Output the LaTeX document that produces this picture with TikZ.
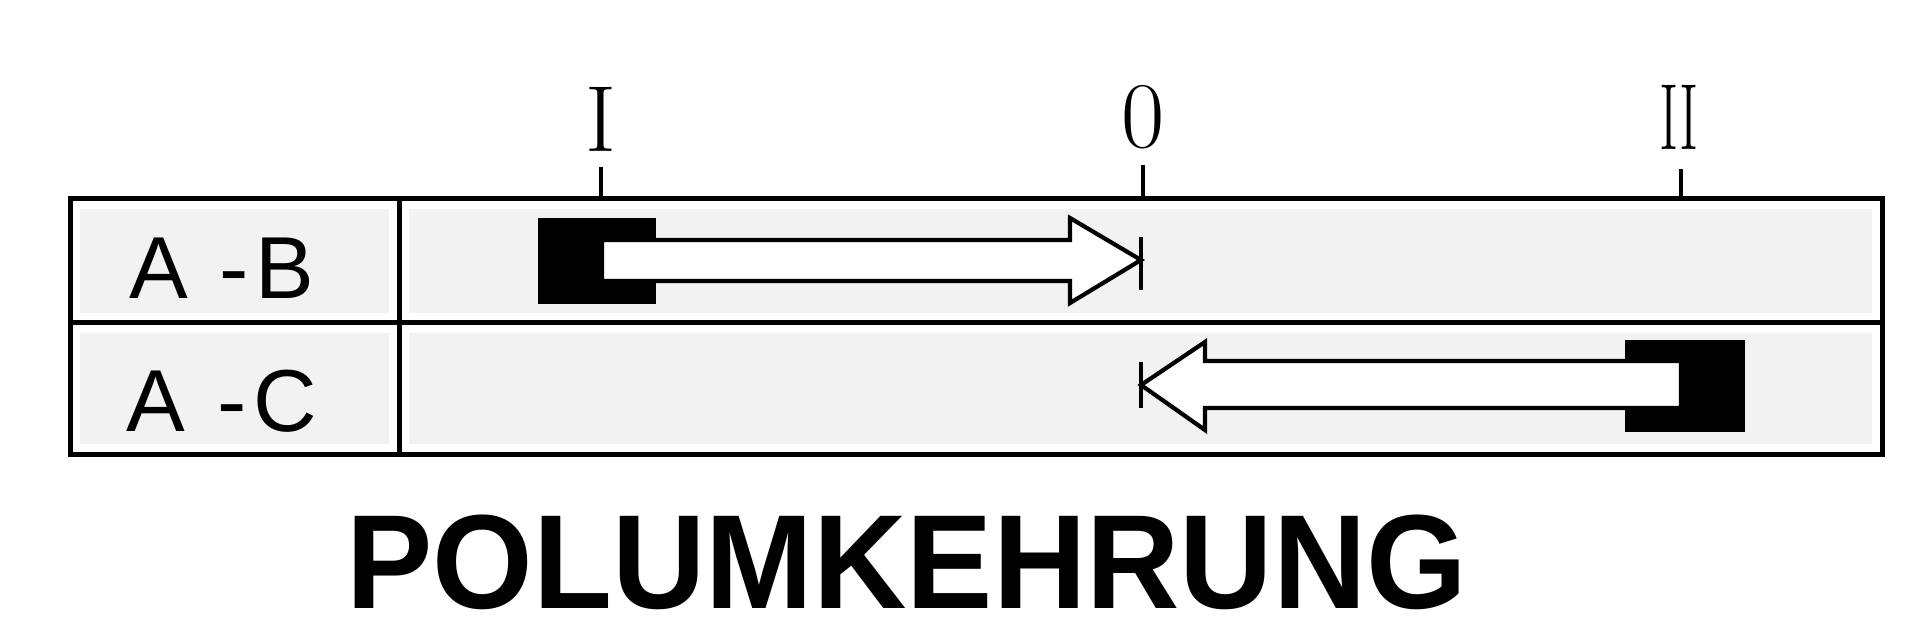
\documentclass[tikz,border=0pt]{standalone}
\usepackage{fontspec}
\newfontfamily\rowfont[LetterSpace = 8]{Liberation Sans}
\newfontfamily\titlefont{Liberation Sans}

\begin{document}
\begin{tikzpicture}[x = 0.5pt, y = -0.5pt,
	poleframe/.style = {line width = 2.5pt},
	cellshade/.style = {fill = black!5},
	arrowbody/.style = {fill = white, draw = black, line width = 2.1pt, line join = miter},
	scalemark/.style = {line width = 1.6pt},
	scalelabel/.style = {anchor = base, inner sep = 0pt, font = \fontsize{47pt}{50pt}\selectfont},
	rowlabel/.style = {anchor = base, inner sep = 0pt, font = \rowfont\fontsize{44pt}{48pt}\selectfont}]

	\useasboundingbox (0, 0) rectangle (1920, 636);

	% Cell shading

	\fill [cellshade] (80, 209) rectangle (389, 313);
	\fill [cellshade] (80, 333) rectangle (389, 444);
	\fill [cellshade] (409, 209) rectangle (1872, 313);
	\fill [cellshade] (409, 333) rectangle (1872, 444);

	% Frame

	\draw [poleframe] (70, 199) rectangle (1882, 454);
	\draw [poleframe] (70, 322) -- (1882, 322);
	\draw [poleframe] (399, 199) -- (399, 454);

	% Switch positions

	\coordinate (mI) at (601, 199);
	\coordinate (m0) at (1143, 199);
	\coordinate (mII) at (1681, 199);

	\draw [scalemark] (mI) -- ++ (0, -32);
	\draw [scalemark] (m0) -- ++ (0, -34);
	\draw [scalemark] (mII) -- ++ (0, -30);

	\node [scalelabel] (posI) at (601, 152) {I};
	\node [scalelabel] (pos0) at (1143, 148) {0};
	\node [scalelabel, xscale = 0.62] (posII) at (1679, 150) {II};

	% Row labels

	\node [rowlabel] (ab) at (222, 298) {A -B};
	\node [rowlabel] (ac) at (222, 431) {A -C};

	% Contact A-B: from I to 0

	\fill (538, 218) rectangle (656, 304);
	\draw [arrowbody] (602, 240) -- (1070, 240) -- (1070, 218) -- (1141, 260) -- (1070, 303) -- (1070, 281) -- (602, 281) -- cycle;
	\draw [scalemark] (1141, 237) -- (1141, 290);

	% Contact A-C: from II to 0

	\fill (1625, 340) rectangle (1745, 432);
	\draw [arrowbody] (1681, 361) -- (1205, 361) -- (1205, 342) -- (1141, 385) -- (1205, 430) -- (1205, 408) -- (1681, 408) -- cycle;
	\draw [scalemark] (1141, 362) -- (1141, 408);

	% Title

	\node [anchor = base, inner sep = 0pt, xscale = 0.965, font = \titlefont\bfseries\fontsize{67pt}{70pt}\selectfont] (title) at (907, 608) {POLUMKEHRUNG};

\end{tikzpicture}
\end{document}
